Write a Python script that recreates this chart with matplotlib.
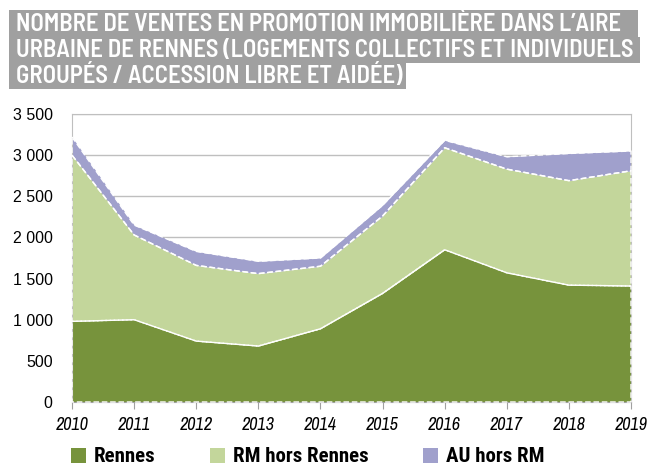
import matplotlib
matplotlib.use('Agg')
import numpy as np
import matplotlib.pyplot as plt
from matplotlib.patches import Rectangle

years = [2010, 2011, 2012, 2013, 2014, 2015, 2016, 2017, 2018, 2019]
rennes = [980, 1000, 740, 680, 890, 1320, 1850, 1570, 1420, 1410]
rm_hors_rennes = [2020, 1030, 920, 880, 760, 940, 1240, 1260, 1270, 1400]
au_hors_rm = [220, 120, 170, 150, 100, 130, 90, 150, 330, 240]
series_names = ['Rennes', 'RM hors Rennes', 'AU hors RM']
colors = ['#77933c', '#c3d69b', '#a0a0cc']
title_lines = ["NOMBRE DE VENTES EN PROMOTION IMMOBILIÈRE DANS L\u2019AIRE",
               "URBAINE DE RENNES (LOGEMENTS COLLECTIFS ET INDIVIDUELS",
               "GROUPÉS / ACCESSION LIBRE ET AIDÉE)"]
yticks = [0, 500, 1000, 1500, 2000, 2500, 3000, 3500]

title_font = ['Barlow Semi Condensed', 'DejaVu Sans']
tick_font = ['Archivo Narrow', 'DejaVu Sans']
legend_font = ['Roboto Condensed', 'Barlow Semi Condensed', 'DejaVu Sans']
plt.rcParams['font.family'] = ['Liberation Sans', 'DejaVu Sans']

fig = plt.figure(figsize=(6.47, 4.65), dpi=100)
ax = fig.add_axes([72/647, 1-402/465, (631-72)/647, (402-114)/465])

x = np.array(years)
layers = [np.array(rennes), np.array(rm_hors_rennes), np.array(au_hors_rm)]
base = np.zeros(len(x))
for vals, col in zip(layers, colors):
	top = base + vals
	ax.fill_between(x, base, top, color=col, linewidth=0, zorder=2)
	poly_x = np.concatenate([x, x[::-1], [x[0]]])
	poly_y = np.concatenate([top, base[::-1], [top[0]]])
	ax.plot(poly_x, poly_y, color='white', lw=1.0, ls=(0, (4, 2)), zorder=3, clip_on=False)
	base = top

ax.set_xlim(2010, 2019)
ax.set_ylim(0, 3500)
ax.set_yticks(yticks)
ax.set_yticklabels(['{:,}'.format(v).replace(',', ' ') for v in yticks], fontsize=11.5)
ax.set_xticks(years)
ax.set_xticklabels([str(y) for y in years], fontsize=13, style='italic', family=tick_font)
ax.yaxis.grid(True, color='#bfbfbf', lw=1.0, zorder=1)
ax.set_axisbelow(True)
for s in ax.spines.values():
	s.set_color('#bfbfbf')
ax.spines['bottom'].set_color('#a0a0a0')
ax.tick_params(axis='y', length=0, pad=14)
ax.tick_params(axis='x', length=5, color='#a0a0a0', pad=6, direction='out')

# title boxes, one per line
box_r = [638, 640, 406]
box_t = [10, 37, 63]
box_b = [37, 63, 89]
title_parts = []
for line, r, t, b in zip(title_lines, box_r, box_t, box_b):
	fig.patches.append(Rectangle((9/647, 1-b/465), (r-9)/647, (b-t)/465, transform=fig.transFigure,
		facecolor='#a0a0a0', edgecolor='none'))
	title_parts.append(fig.text(16/647, 1-(b-6)/465, line, color='white', fontsize=15, fontweight='semibold',
		family=title_font, va='baseline', ha='left'))

# squeeze the title to the width of the boxes
fig.canvas.draw()
rend = fig.canvas.get_renderer()
w = max(tp.get_window_extent(rend).width for tp in title_parts)
size = 15 * (636 - 16) / w
for tp in title_parts:
	tp.set_fontsize(size)

# legend
leg_x = [71, 210, 423]
for name, col, lx in zip(series_names, colors, leg_x):
	fig.patches.append(Rectangle((lx/647, 1-463/465), 15/647, 15/465, transform=fig.transFigure,
		facecolor=col, edgecolor='none'))
	fig.text((lx+23)/647, 1-461.5/465, name, fontsize=15, fontweight='bold', family=legend_font,
		va='baseline', ha='left')

plt.savefig('out.png', dpi=100)
